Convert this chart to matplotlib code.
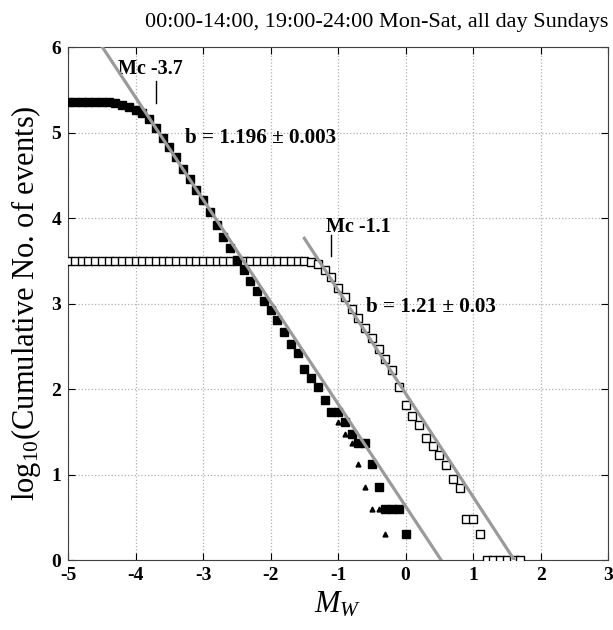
import numpy as np
import matplotlib
matplotlib.use('Agg')
import matplotlib.pyplot as plt

plt.rcParams['font.family'] = 'Liberation Serif'
plt.rcParams['mathtext.fontset'] = 'custom'
plt.rcParams['mathtext.rm'] = 'Liberation Serif'
plt.rcParams['mathtext.it'] = 'Liberation Serif:italic'
plt.rcParams['mathtext.bf'] = 'Liberation Serif:bold'
plt.rcParams['axes.unicode_minus'] = False

# magnitude bins (0.1 wide)
mw_filled = np.round(np.arange(-5.0, 0.01, 0.1), 1)
mw_open = np.round(np.arange(-5.0, 1.71, 0.1), 1)

# log10 cumulative number, filled squares (Mc -3.7 set)
logn_filled = [5.36, 5.36, 5.36, 5.36, 5.36, 5.36,
               5.355, 5.345, 5.33, 5.30, 5.27, 5.23, 5.16, 5.06, 4.94, 4.83,
               4.72, 4.58, 4.46, 4.33, 4.21, 4.07, 3.92, 3.78, 3.65, 3.51,
               3.39, 3.27, 3.15, 3.03, 2.92, 2.81, 2.67, 2.53, 2.42, 2.24,
               2.13, 2.02, 1.87, 1.73, 1.73, 1.62, 1.48, 1.37, 1.37, 1.12,
               0.86, 0.60, 0.60, 0.60, 0.30]

# open squares (Mc -1.1 set)
logn_open = [3.50, 3.50, 3.50, 3.50, 3.50, 3.50, 3.50, 3.50, 3.50, 3.50,
             3.50, 3.50, 3.50, 3.50, 3.50, 3.50, 3.50, 3.50, 3.50, 3.50,
             3.50, 3.50, 3.50, 3.50, 3.50, 3.50, 3.50, 3.50, 3.50, 3.50,
             3.50, 3.50, 3.50, 3.50, 3.50, 3.50, 3.49,
             3.46, 3.39, 3.31, 3.18, 3.08, 2.94, 2.83, 2.72, 2.60, 2.47,
             2.35, 2.22, 2.03, 1.82, 1.69, 1.58, 1.43, 1.34, 1.23, 1.11,
             0.95, 0.84, 0.48, 0.48, 0.30, 0.0, 0.0, 0.0, 0.0, 0.0, 0.0]

# small triangles
mw_tri = [-1.0, -0.9, -0.8, -0.7, -0.6, -0.5, -0.4, -0.3]
logn_tri = [1.62, 1.48, 1.37, 1.12, 0.86, 0.60, 0.60, 0.30]

# Gutenberg-Richter fits: log N = a - b*M
a1, b1 = 0.63, 1.196
fit1_x = [-5.0, 0.53]
a2, b2 = 1.95, 1.21
fit2_x = [-1.5, 1.61]

fig = plt.figure(figsize=(6.13, 6.30), dpi=100)
ax = fig.add_axes([0.111, 0.111, 0.881, 0.814])

ax.plot(mw_open, logn_open, 's', color='k', mfc='white', mew=1.0, ms=5.3, zorder=3)
ax.plot(mw_filled, logn_filled, 's', color='k', ms=5.6, zorder=4)
ax.plot(mw_tri, logn_tri, '^', color='k', ms=3.5, zorder=4)

x1 = np.array(fit1_x)
x2 = np.array(fit2_x)
ax.plot(x1, a1 - b1 * x1, color='#9a9a9a', lw=2.3, zorder=5)
ax.plot(x2, a2 - b2 * x2, color='#9a9a9a', lw=2.3, zorder=5)

# Mc markers and labels
ax.plot([-3.7, -3.7], [5.35, 5.6], color='k', lw=1)
ax.plot([-1.1, -1.1], [3.56, 3.8], color='k', lw=1)
ax.text(-3.78, 5.75, 'Mc -3.7', fontsize=14.5, fontweight='bold', ha='center', va='center')
ax.text(-0.7, 3.9, 'Mc -1.1', fontsize=14.5, fontweight='bold', ha='center', va='center')
ax.text(-3.27, 4.94, 'b = 1.196 \u00b1 0.003', fontsize=15.2, fontweight='bold', ha='left', va='center')
ax.text(-0.58, 2.96, 'b = 1.21 \u00b1 0.03', fontsize=15.2, fontweight='bold', ha='left', va='center')

ax.set_xlim(-5, 3)
ax.set_ylim(0, 6)
ax.set_xticks(range(-5, 4))
ax.set_yticks(range(0, 7))
ax.grid(True, color='#b0b0b0', linestyle=':', linewidth=0.9)
ax.tick_params(direction='in', length=5, top=True, right=True, labelsize=14, pad=5)
for lab in ax.get_xticklabels() + ax.get_yticklabels():
    lab.set_fontweight('bold')
for sp in ax.spines.values():
    sp.set_color('#404040')

ax.set_xlabel(r'$M_W$', fontsize=22, labelpad=4)
ax.set_ylabel(r'log$_{10}$(Cumulative No. of events)', fontsize=22, labelpad=6)
fig.text(377 / 613, 1 - 22 / 630, '00:00-14:00, 19:00-24:00 Mon-Sat, all day Sundays',
         fontsize=16, ha='center', va='center')

plt.savefig('out.png', dpi=100)
